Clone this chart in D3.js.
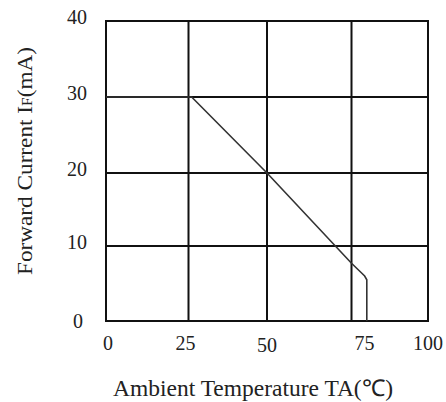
<!DOCTYPE html>
<html>
<head>
<meta charset="utf-8">
<script src="https://cdn.jsdelivr.net/npm/d3@7"></script>
<style>
  body { margin: 0; background: #fff; }
  text { font-family: "Liberation Serif", "Times New Roman", serif; fill: #222; }
</style>
</head>
<body>
<svg id="chart" width="446" height="402"></svg>
<script>
// Data
const temperature = [0, 26, 50, 75, 78.3, 79.3, 80, 80];
const forwardCurrent = [30, 30, 20, 7.7, 6.4, 6.0, 5.5, 0];
const xTicks = [0, 25, 50, 75, 100];
const yTicks = [0, 10, 20, 30, 40];
const xTitle = "Ambient Temperature TA(℃)";

const svg = d3.select("#chart");

// scales (grid of the original is slightly irregular)
const x = d3.scaleLinear().domain(xTicks).range([106, 188.5, 267, 351.5, 428]);
const y = d3.scaleLinear().domain(yTicks).range([321, 246, 173, 97, 21]);

// grid
const g = svg.append("g");
g.selectAll("line.v").data(xTicks).join("line")
  .attr("x1", d => x(d)).attr("x2", d => x(d))
  .attr("y1", y(0)).attr("y2", y(40))
  .attr("stroke", "#111").attr("stroke-width", 2);
g.selectAll("line.h").data(yTicks).join("line")
  .attr("y1", d => y(d)).attr("y2", d => y(d))
  .attr("x1", x(0) - 1).attr("x2", x(100) + 1)
  .attr("stroke", "#111").attr("stroke-width", 2);

// curve
const line = d3.line().x((d, i) => x(temperature[i])).y(d => y(d));
svg.append("path").datum(forwardCurrent)
  .attr("d", line)
  .attr("fill", "none").attr("stroke", "#333").attr("stroke-width", 1.6);

// y tick labels
svg.selectAll("text.yt").data(yTicks).join("text")
  .attr("x", d => d === 0 ? 83 : 87).attr("y", d => y(d) + (d === 0 ? 2 : -2))
  .attr("text-anchor", "end").attr("dominant-baseline", "middle")
  .attr("font-size", 20)
  .text(d => d);

// x tick labels
svg.selectAll("text.xt").data(xTicks).join("text")
  .attr("x", d => x(d) + (d === 0 ? 2 : d === 75 ? 13 : d === 25 ? -3 : 0))
  .attr("y", d => d === 50 ? 352 : 350)
  .attr("text-anchor", "middle")
  .attr("font-size", 20)
  .text(d => d);

// axis titles
svg.append("text")
  .attr("x", 253).attr("y", 396)
  .attr("text-anchor", "middle")
  .attr("font-size", 23)
  .attr("textLength", 280).attr("lengthAdjust", "spacingAndGlyphs")
  .text(xTitle);

const yt = svg.append("text")
  .attr("transform", "translate(32,161) rotate(-90)")
  .attr("text-anchor", "middle")
  .attr("font-size", 21)
  .attr("textLength", 228).attr("lengthAdjust", "spacingAndGlyphs");
yt.append("tspan").text("Forward Current I");
yt.append("tspan").attr("font-size", 14).text("F");
yt.append("tspan").text("(mA)");
</script>
</body>
</html>
